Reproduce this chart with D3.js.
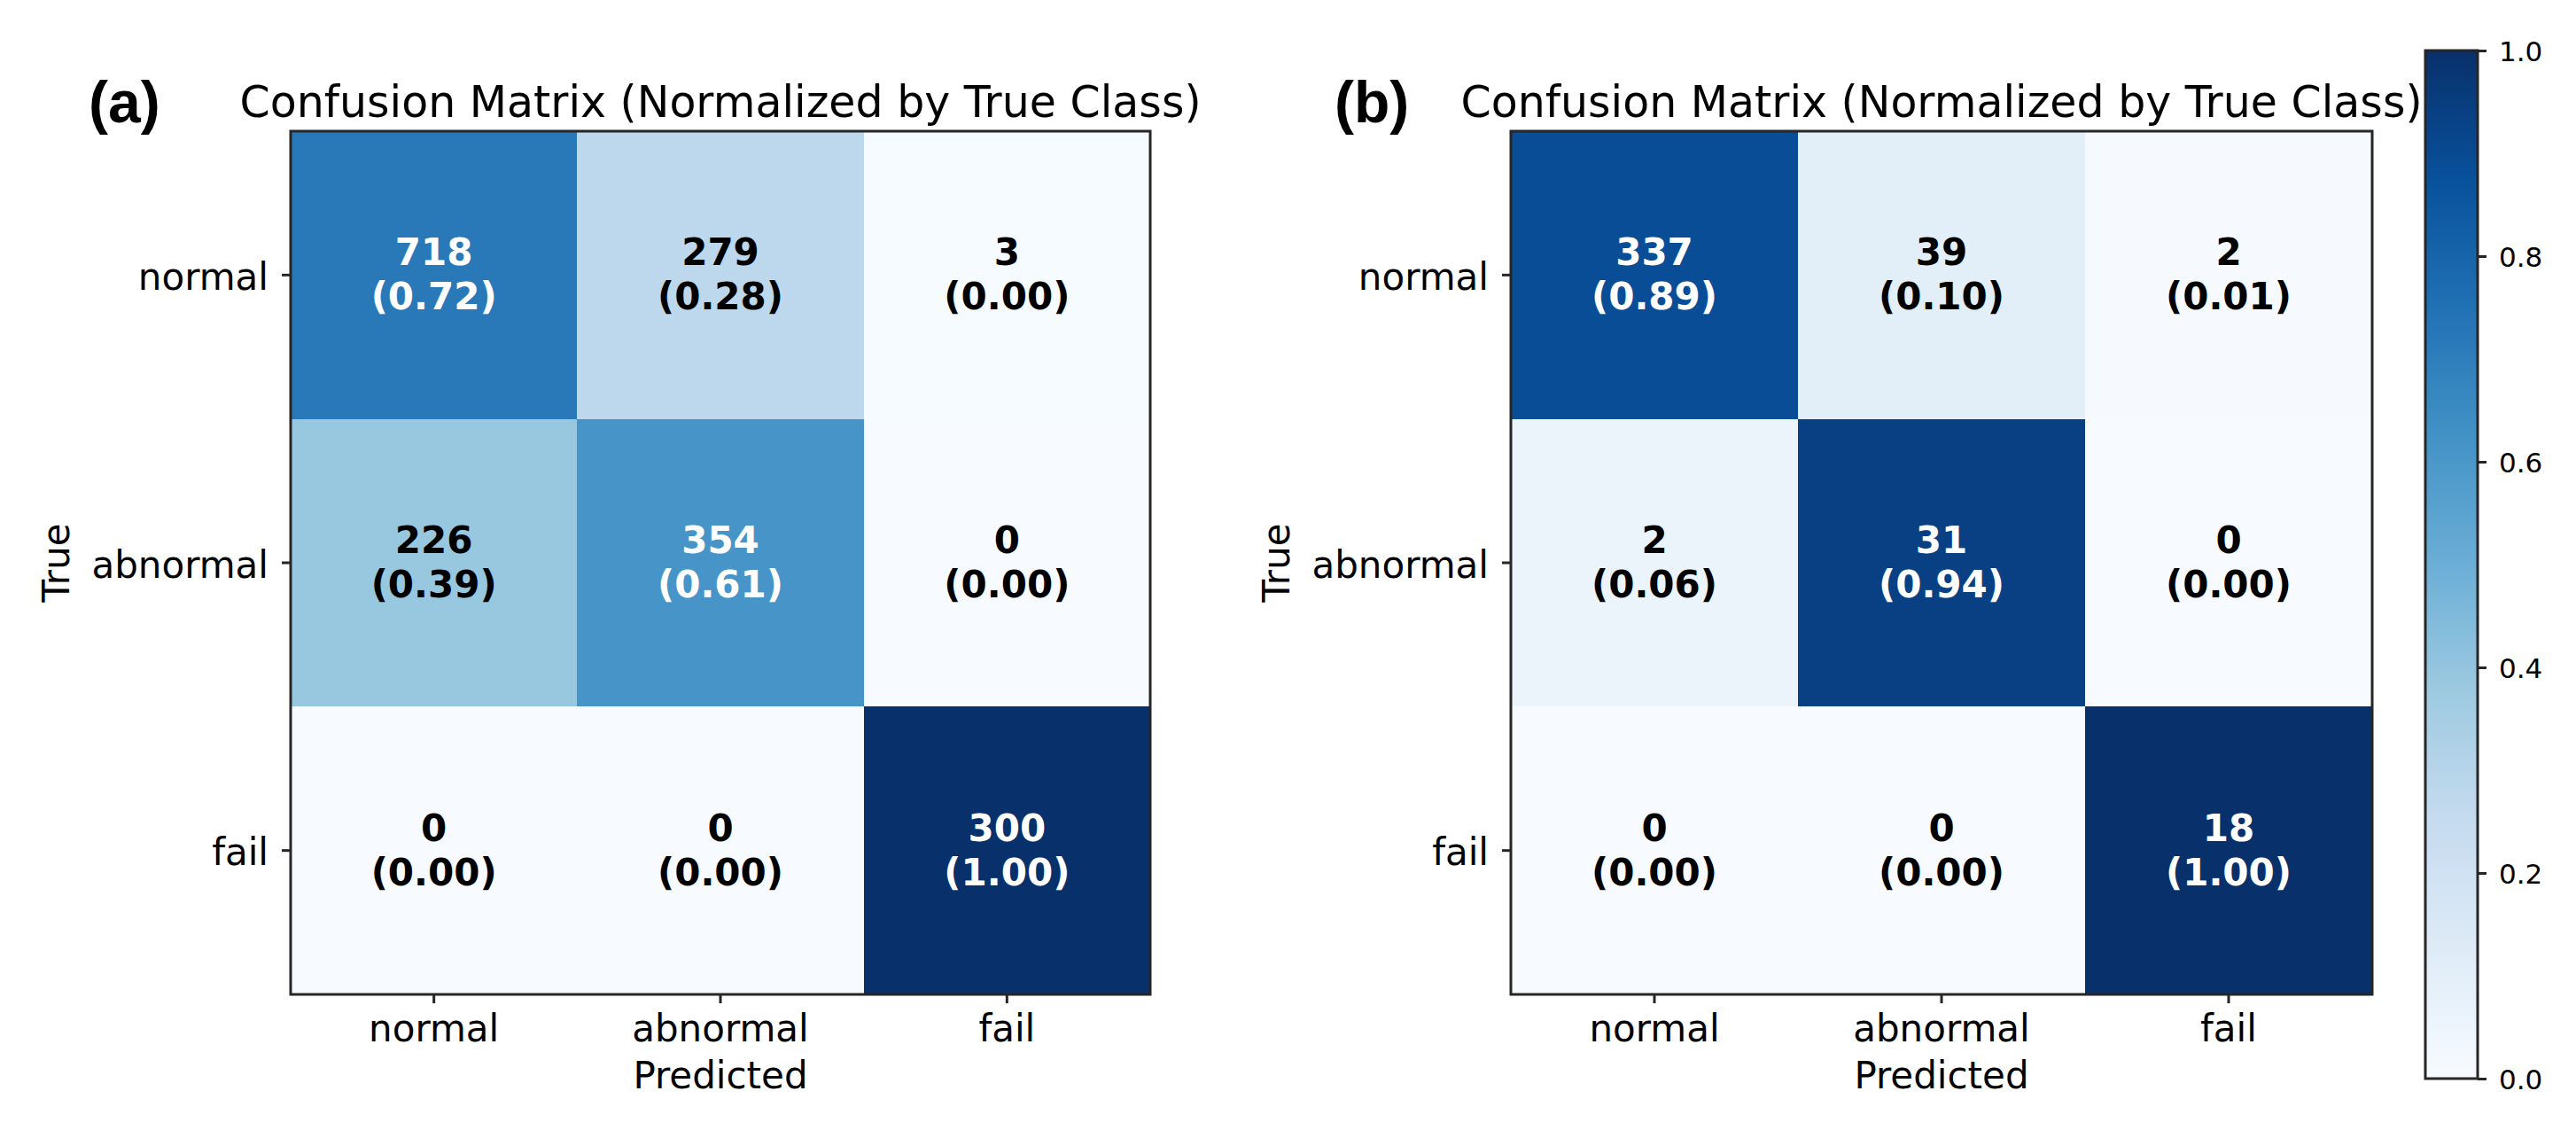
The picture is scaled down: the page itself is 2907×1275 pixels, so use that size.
<!DOCTYPE html>
<html>
<head>
<meta charset="utf-8">
<script src="https://cdn.jsdelivr.net/npm/d3@7"></script>
<style>
  body { margin: 0; background: #fff; }
  text { font-family: "DejaVu Sans", sans-serif; fill: #000; }
</style>
</head>
<body>
<div id="chart"></div>
<script>
    'use strict';

    // classes and counts
    var classes = ['normal', 'abnormal', 'fail'];
    var countsA = [[718, 279, 3], [226, 354, 0], [0, 0, 300]];
    var countsB = [[337, 39, 2], [2, 31, 0], [0, 0, 18]];
    var panelLabels = ['(a)', '(b)'];
    var titleText = 'Confusion Matrix (Normalized by True Class)';
    var cbarTicks = [0.0, 0.2, 0.4, 0.6, 0.8, 1.0];

    // matplotlib "Blues"
    var bluesStops = ['#f7fbff', '#deebf7', '#c6dbef', '#9ecae1', '#6baed6',
                      '#4292c6', '#2171b5', '#08519c', '#08306b'];

    var width = 2907;
    var height = 1275;
    var ink = '#262626';

    var color = d3.scaleLinear()
        .domain(bluesStops.map(function (d, i) { return i / (bluesStops.length - 1); }))
        .range(bluesStops)
        .clamp(true);

    var svg = d3.select('#chart')
        .append('svg')
        .attr('width', width)
        .attr('height', height)
        .attr('viewBox', '0 0 ' + width + ' ' + height);

    svg.append('rect')
        .attr('width', width)
        .attr('height', height)
        .attr('fill', '#fff');

    var panels = [
        { counts: countsA, label: panelLabels[0], x0: 328, x1: 1298, labelX: 100 },
        { counts: countsB, label: panelLabels[1], x0: 1705, x1: 2677, labelX: 1506 }
    ];
    var yTop = 148, yBottom = 1122;

    var drawPanel = function drawPanel(p) {
        var x = d3.scaleBand().domain(classes).range([p.x0, p.x1]);
        var y = d3.scaleBand().domain(classes).range([yTop, yBottom]);

        // normalise each row by its total
        var cells = [];
        p.counts.forEach(function (row, i) {
            var sum = d3.sum(row);
            row.forEach(function (v, j) {
                cells.push({ t: classes[i], p: classes[j], n: v, f: sum ? v / sum : 0 });
            });
        });

        var g = svg.append('g');

        g.selectAll('rect.cell')
            .data(cells)
            .enter()
            .append('rect')
            .attr('class', 'cell')
            .attr('x', function (d) { return x(d.p); })
            .attr('y', function (d) { return y(d.t); })
            .attr('width', x.bandwidth())
            .attr('height', y.bandwidth())
            .attr('fill', function (d) { return color(d.f); })
            .attr('shape-rendering', 'crispEdges');

        var lab = g.selectAll('text.ann')
            .data(cells)
            .enter()
            .append('text')
            .attr('class', 'ann')
            .attr('text-anchor', 'middle')
            .attr('font-size', 42)
            .attr('font-weight', 'bold')
            .style('fill', function (d) { return d.f > 0.5 ? '#fff' : '#000'; });

        lab.append('tspan')
            .attr('x', function (d) { return x(d.p) + x.bandwidth() / 2; })
            .attr('y', function (d) { return y(d.t) + y.bandwidth() / 2 - 11; })
            .text(function (d) { return d.n; });

        lab.append('tspan')
            .attr('x', function (d) { return x(d.p) + x.bandwidth() / 2; })
            .attr('y', function (d) { return y(d.t) + y.bandwidth() / 2 + 39; })
            .text(function (d) { return '(' + d.f.toFixed(2) + ')'; });

        // frame
        g.append('rect')
            .attr('x', p.x0)
            .attr('y', yTop)
            .attr('width', p.x1 - p.x0)
            .attr('height', yBottom - yTop)
            .attr('fill', 'none')
            .attr('stroke', ink)
            .attr('stroke-width', 3);

        var yAxis = g.append('g')
            .attr('transform', 'translate(' + p.x0 + ',0)')
            .call(d3.axisLeft(y).tickSize(10).tickPadding(15));
        var xAxis = g.append('g')
            .attr('transform', 'translate(0,' + yBottom + ')')
            .call(d3.axisBottom(x).tickSize(10).tickPadding(13));

        [yAxis, xAxis].forEach(function (a) {
            a.select('.domain').remove();
            a.selectAll('line').attr('stroke', ink).attr('stroke-width', 3);
            a.selectAll('text').attr('font-size', 42).attr('font-family', null).style('fill', '#000');
        });
        yAxis.selectAll('text').attr('dy', '0.4em');

        g.append('text')
            .attr('x', (p.x0 + p.x1) / 2)
            .attr('y', 1228)
            .attr('text-anchor', 'middle')
            .attr('font-size', 42)
            .text('Predicted');

        g.append('text')
            .attr('transform', 'translate(' + (p.x0 - 250) + ',' + ((yTop + yBottom) / 2) + ') rotate(-90)')
            .attr('text-anchor', 'middle')
            .attr('font-size', 42)
            .text('True');

        g.append('text')
            .attr('x', (p.x0 + p.x1) / 2)
            .attr('y', 132)
            .attr('text-anchor', 'middle')
            .attr('font-size', 49)
            .text(titleText);

        g.append('text')
            .attr('x', p.labelX)
            .attr('y', 138)
            .attr('font-size', 66)
            .attr('font-weight', 'bold')
            .style('font-family', '"Liberation Sans Narrow", "Liberation Sans", Arial, sans-serif')
            .text(p.label);
    };

    panels.forEach(drawPanel);

    // colorbar
    var cb = { x: 2737, w: 59, y0: 57, y1: 1217 };
    var cScale = d3.scaleLinear().domain([0, 1]).range([cb.y1, cb.y0]);

    var grad = svg.append('defs')
        .append('linearGradient')
        .attr('id', 'cbGrad')
        .attr('x1', 0).attr('y1', 1)
        .attr('x2', 0).attr('y2', 0);
    grad.selectAll('stop')
        .data(bluesStops)
        .enter()
        .append('stop')
        .attr('offset', function (d, i) { return i / (bluesStops.length - 1); })
        .attr('stop-color', function (d) { return d; });

    svg.append('rect')
        .attr('x', cb.x)
        .attr('y', cb.y0)
        .attr('width', cb.w)
        .attr('height', cb.y1 - cb.y0)
        .attr('fill', 'url(#cbGrad)')
        .attr('stroke', ink)
        .attr('stroke-width', 3);

    var cAxis = svg.append('g')
        .attr('transform', 'translate(' + (cb.x + cb.w) + ',0)')
        .call(d3.axisRight(cScale).tickValues(cbarTicks).tickFormat(d3.format('.1f'))
            .tickSize(10).tickPadding(14));
    cAxis.select('.domain').remove();
    cAxis.selectAll('line').attr('stroke', ink).attr('stroke-width', 3);
    cAxis.selectAll('text').attr('font-size', 31).attr('font-family', null)
        .attr('dy', '0.37em').style('fill', '#000');
</script>
</body>
</html>
